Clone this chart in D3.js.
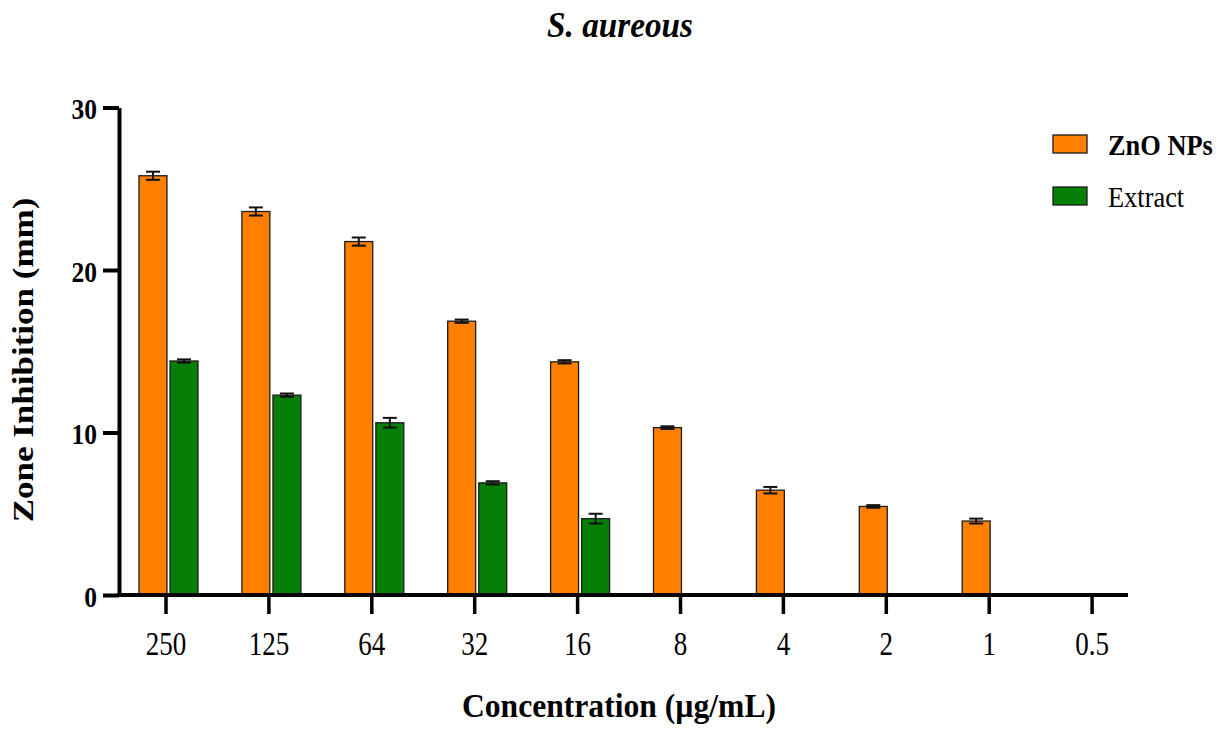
<!DOCTYPE html>
<html>
<head>
<meta charset="utf-8">
<script src="https://cdn.jsdelivr.net/npm/d3@7/dist/d3.min.js"></script>
<style>
  html, body { margin: 0; padding: 0; background: #ffffff; }
  svg { display: block; }
  text { font-family: "Liberation Serif", "Times New Roman", serif; fill: #000; }
</style>
</head>
<body>
<svg id="chart" width="1224" height="731"></svg>
<script>
// Concentrations tested (µg/mL)
const categories = ["250", "125", "64", "32", "16", "8", "4", "2", "1", "0.5"];
const seriesNames = ["ZnO NPs", "Extract"];
const seriesColors = ["#FF7F00", "#067F06"];

// Mean zone of inhibition (mm) and standard deviation per concentration
const znoValues     = [25.8, 23.6, 21.75, 16.85, 14.35, 10.3, 6.45, 5.45, 4.55, 0];
const znoErrors     = [0.25, 0.25, 0.25, 0.1, 0.1, 0.08, 0.2, 0.08, 0.15, 0];
const extractValues = [14.4, 12.3, 10.6, 6.9, 4.7, null, null, null, null, null];
const extractErrors = [0.1, 0.1, 0.3, 0.1, 0.3, null, null, null, null, null];

const yTicks = [0, 10, 20, 30];
const titleText = "S. aureous";
const xTitle = "Concentration (\u00b5g/mL)";
const yTitle = "Zone Inhibition (mm)";

const svg = d3.select("#chart");
const squeeze = 0.87; // narrow typeface proportion used for all labels

const step = 102.9;
const firstCenter = 166;
const x = d3.scaleBand()
  .domain(categories)
  .range([firstCenter - step / 2, firstCenter - step / 2 + step * categories.length])
  .padding(0);
const xSub = d3.scaleBand()
  .domain(seriesNames)
  .range([-27, 32])
  .paddingInner(0.1);
const y = d3.scaleLinear().domain([0, 30]).range([595, 107.5]);
const axisX = 119;

const rows = categories.map((c, i) => ({
  cat: c,
  bars: [
    { s: seriesNames[0], v: znoValues[i], e: znoErrors[i], color: seriesColors[0] },
    { s: seriesNames[1], v: extractValues[i], e: extractErrors[i], color: seriesColors[1] }
  ].filter(b => b.v !== null && b.v > 0)
}));

// Bars
const groups = svg.append("g").selectAll("g.grp")
  .data(rows).join("g")
  .attr("class", "grp")
  .attr("transform", d => `translate(${x(d.cat) + x.bandwidth() / 2},0)`);

groups.selectAll("rect")
  .data(d => d.bars).join("rect")
  .attr("x", b => xSub(b.s))
  .attr("width", xSub.bandwidth())
  .attr("y", b => y(b.v))
  .attr("height", b => y(0) - y(b.v))
  .attr("fill", b => b.color)
  .attr("stroke", "#1c1c1c")
  .attr("stroke-width", 1.3);

// Error bars (mean ± SD)
const err = groups.selectAll("g.err")
  .data(d => d.bars).join("g")
  .attr("class", "err")
  .attr("transform", b => `translate(${xSub(b.s) + xSub.bandwidth() / 2},0)`)
  .attr("stroke", "#111")
  .attr("stroke-width", 2);
err.append("line")
  .attr("x1", 0).attr("x2", 0)
  .attr("y1", b => y(b.v - b.e)).attr("y2", b => y(b.v + b.e));
err.append("line")
  .attr("x1", -7).attr("x2", 7)
  .attr("y1", b => y(b.v + b.e)).attr("y2", b => y(b.v + b.e));
err.append("line")
  .attr("x1", -7).attr("x2", 7)
  .attr("y1", b => y(b.v - b.e)).attr("y2", b => y(b.v - b.e));

// Y axis
const gy = svg.append("g")
  .attr("transform", `translate(${axisX},0)`)
  .call(d3.axisLeft(y).tickValues(yTicks).tickFormat(d3.format("d")).tickSize(16).tickSizeOuter(0));
gy.select(".domain").attr("stroke", "#000").attr("stroke-width", 4);
gy.selectAll(".tick line").attr("stroke", "#000").attr("stroke-width", 4);
gy.selectAll(".tick text")
  .attr("font-family", "Liberation Serif, serif")
  .attr("font-size", 30)
  .attr("font-weight", "bold")
  .attr("fill", "#000")
  .attr("dy", null)
  .attr("y", 11)
  .attr("x", -22 / 0.85)
  .attr("transform", "scale(0.85,1)");

// X axis
const gx = svg.append("g")
  .attr("transform", `translate(0,${y(0)})`)
  .call(d3.axisBottom(x).tickSize(19).tickSizeOuter(0));
gx.select(".domain").remove();
gx.selectAll(".tick line").attr("stroke", "#000").attr("stroke-width", 3.5);
gx.selectAll(".tick text")
  .attr("font-family", "Liberation Serif, serif")
  .attr("font-size", 33)
  .attr("fill", "#000")
  .attr("dy", null)
  .attr("y", 60)
  .attr("transform", "scale(0.82,1)");
svg.append("line")
  .attr("x1", axisX - 2).attr("x2", 1128)
  .attr("y1", y(0)).attr("y2", y(0))
  .attr("stroke", "#000").attr("stroke-width", 4);

// Title
svg.append("text")
  .attr("transform", `translate(620,37) scale(0.95,1)`)
  .attr("text-anchor", "middle")
  .attr("font-size", 35)
  .attr("font-weight", "bold")
  .attr("font-style", "italic")
  .text(titleText);

// Axis titles
svg.append("text")
  .attr("transform", `translate(619,717) scale(0.93,1)`)
  .attr("text-anchor", "middle")
  .attr("font-size", 34)
  .attr("font-weight", "bold")
  .text(xTitle);

svg.append("text")
  .attr("transform", `translate(33,360) scale(${squeeze},1) rotate(-90)`)
  .attr("text-anchor", "middle")
  .attr("font-size", 35)
  .attr("font-weight", "bold")
  .text(yTitle);

// Legend
const legend = svg.append("g");
const legendRows = seriesNames.map((name, i) => ({ name, color: seriesColors[i], bold: i === 0 }));
const lg = legend.selectAll("g").data(legendRows).join("g")
  .attr("transform", (d, i) => `translate(1053,${135 + i * 52})`);
lg.append("rect")
  .attr("width", 34).attr("height", 18)
  .attr("fill", d => d.color)
  .attr("stroke", "#1c1c1c").attr("stroke-width", 1.3);
lg.append("text")
  .attr("transform", `translate(55,20) scale(0.88,1)`)
  .attr("font-size", 30)
  .attr("font-weight", d => d.bold ? "bold" : "normal")
  .text(d => d.name);
</script>
</body>
</html>
